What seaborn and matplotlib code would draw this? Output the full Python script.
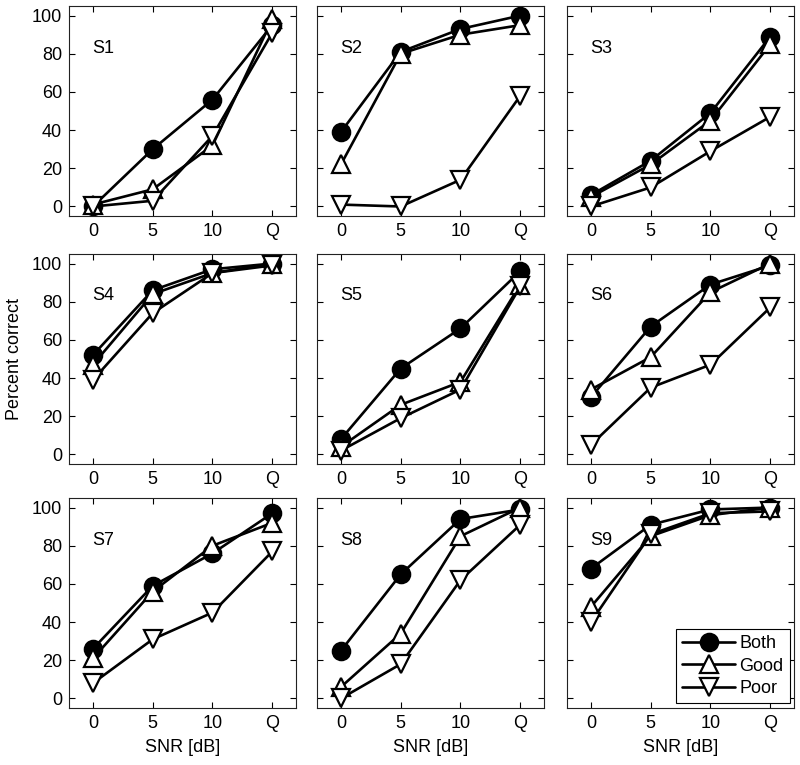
import numpy as np
import pandas as pd
import seaborn as sns
import matplotlib
matplotlib.use("Agg")
import matplotlib.pyplot as plt

# x categories and subject names
snr_labels = ["0", "5", "10", "Q"]
subjects = ["S1", "S2", "S3", "S4", "S5", "S6", "S7", "S8", "S9"]

# percent correct per subject (rows) at each SNR (columns)
both = [
    [0, 30, 56, 95],
    [39, 81, 93, 100],
    [6, 24, 49, 89],
    [52, 86, 97, 100],
    [8, 45, 66, 96],
    [30, 67, 89, 99],
    [26, 59, 76, 97],
    [25, 65, 94, 99],
    [68, 91, 99, 100],
]
good = [
    [1, 9, 32, 98],
    [22, 80, 90, 95],
    [5, 22, 45, 85],
    [47, 84, 95, 100],
    [4, 26, 38, 89],
    [34, 51, 85, 100],
    [21, 56, 80, 92],
    [6, 34, 85, 100],
    [48, 85, 96, 100],
]
poor = [
    [0, 3, 37, 91],
    [1, 0, 14, 58],
    [0, 10, 29, 47],
    [39, 74, 95, 99],
    [2, 19, 34, 88],
    [5, 35, 47, 77],
    [8, 31, 45, 77],
    [0, 18, 62, 91],
    [40, 86, 97, 98],
]

series = [
    ("Both", both, "o", "black"),
    ("Good", good, "^", "white"),
    ("Poor", poor, "v", "white"),
]

sns.set_style("ticks")
plt.rcParams["font.family"] = ["Liberation Sans", "DejaVu Sans"]
plt.rcParams["font.size"] = 13
for key in ["text.color", "axes.labelcolor", "xtick.color", "ytick.color"]:
    plt.rcParams[key] = "black"

fig = plt.figure(figsize=(8, 7.65), dpi=100)

col_left = [0.08625, 0.39625, 0.70875]
row_bottom = [0.7176, 0.3935, 0.0745]
ax_w = 0.284
ax_h = 0.2745

for i, subj in enumerate(subjects):
    r, c = divmod(i, 3)
    ax = fig.add_axes([col_left[c], row_bottom[r], ax_w, ax_h])

    for name, values, marker, face in series:
        df = pd.DataFrame({"snr": snr_labels, "pc": values[i]})
        sns.lineplot(
            data=df, x="snr", y="pc", ax=ax, color="black",
            linewidth=1.9, marker=marker, markersize=12.5,
            markerfacecolor=face, markeredgecolor="black",
            markeredgewidth=1.6, label=name, legend=False,
        )

    ax.set_xlim(-0.4, 3.4)
    ax.set_ylim(-5, 105)
    ax.set_xticks(range(len(snr_labels)))
    ax.set_xticklabels(snr_labels)
    ax.set_yticks([0, 20, 40, 60, 80, 100])
    if c != 0:
        ax.set_yticklabels([])
    ax.tick_params(direction="in", top=True, right=True, length=4,
                   width=0.8, labelsize=13, pad=5)
    for sp in ax.spines.values():
        sp.set_visible(True)
        sp.set_linewidth(0.8)
        sp.set_color("#222222")
    ax.set_xlabel("SNR [dB]" if r == 2 else "", fontsize=13, labelpad=5)
    ax.set_ylabel("Percent correct" if (r == 1 and c == 0) else "",
                  fontsize=13, labelpad=6)
    ax.text(0.1, 0.8, subj, transform=ax.transAxes, fontsize=13,
            ha="left", va="center")

    if ax.get_legend() is not None:
        ax.get_legend().remove()
    if subj == "S9":
        leg = ax.legend(handles=ax.lines[:3], labels=[s[0] for s in series],
                        loc="lower right", fontsize=13, frameon=True,
                        fancybox=False, framealpha=1, edgecolor="black",
                        handlelength=2.9, handletextpad=0.25,
                        borderaxespad=0.25, labelspacing=0.3,
                        borderpad=0.35)
        leg.get_frame().set_linewidth(0.8)

fig.savefig("out.png", dpi=100)
